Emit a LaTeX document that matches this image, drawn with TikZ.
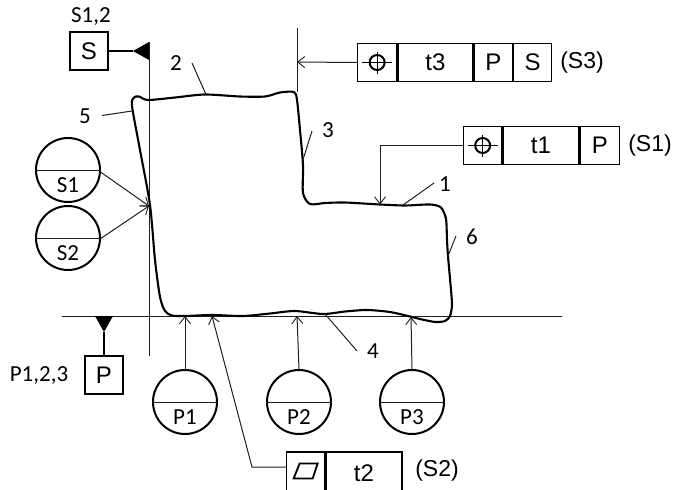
\documentclass[tikz,border=0pt]{standalone}
\usepackage{fontspec}
\setmainfont{Liberation Sans}
\newfontfamily\lblfont{Carlito}
\usetikzlibrary{arrows.meta}
\definecolor{thin}{gray}{0.12}
\tikzset{
  cell/.style={draw=black,line width=1.3pt,minimum height=38pt,inner sep=0pt,font=\fontsize{24}{26}\selectfont,anchor=west},
  dsq/.style={draw=black,line width=1.3pt,minimum size=38pt,inner sep=0pt,font=\fontsize{24}{26}\selectfont},
  dat/.style={draw=black,line width=2pt,circle,minimum size=64pt,inner sep=0pt},
  lbl/.style={font=\lblfont\fontsize{23}{25}\selectfont,inner sep=0pt},
  tag/.style={font=\fontsize{23}{25}\selectfont,inner sep=0pt},
  thinline/.style={draw=thin,line width=1pt},
  lead/.style={thinline,-{Straight Barb[length=7pt,width=11pt,line width=0.9pt]}},
  profile/.style={draw=black,line width=2.1pt,line join=round}
}
\begin{document}
\begin{tikzpicture}[x=1pt,y=-1pt]
\clip (0,0) rectangle (675,490);
% datum lines
\coordinate (vt) at (149,42); \coordinate (vb) at (149,356);
\coordinate (wt) at (297,28); \coordinate (wb) at (297,92);
\coordinate (hl) at (62,316); \coordinate (hr) at (562,316);
\draw[thinline] (vt) -- (vb);
\draw[thinline] (wt) -- (wb);
\draw[thinline] (hl) -- (hr);
% profile
\draw[profile] plot[smooth cycle,tension=0.45] coordinates {
 (132,106) (134,97.5) (139,96.5) (148,100) (175,97.5) (205,94.5) (240,96.5) (265,96.5) (280,92.5) (294,92)
 (297,100) (300,130) (303,165) (303,193) (310,204) (325,203) (345,202.5) (380,204.5) (405,205.5) (430,204.5) (441,207.5) (446,219) (447,240) (448,256)
 (451,290) (452,305) (450,316) (445,321) (435,322) (420,319) (410,316.5) (390,312) (367,310) (345,311.5) (323,314) (295,311) (270,313.5) (243,316) (212,315) (185,316) (172,315.5) (165,311) (160,297) (155,260) (150,205) (140,150)};
% feature control frames
\node[cell,minimum width=39pt] (a1) at (357,62.5) {};
\node[cell,minimum width=75pt] (a2) at (a1.east) {t3};
\node[cell,minimum width=38pt] (a3) at (a2.east) {P};
\node[cell,minimum width=38pt] (a4) at (a3.east) {S};
\node[cell,minimum width=38pt] (b1) at (463,145.5) {};
\node[cell,minimum width=76pt] (b2) at (b1.east) {t1};
\node[cell,minimum width=39pt] (b3) at (b2.east) {P};
\node[cell,minimum width=38pt,minimum height=46pt] (c1) at (286,475) {};
\node[cell,minimum width=76pt,minimum height=46pt] (c2) at (c1.east) {\raisebox{4pt}{t2}};
\node[tag] (ta) at (582,62.5) {(S3)};
\node[tag] (tb) at (650,145.5) {(S1)};
\node[tag] (tc) at (437,471) {(S2)};
% symbols
\foreach \n in {a1,b1}{
  \draw[black,line width=2pt] (\n.center) circle (7.5pt);
  \draw[black,line width=1pt] ([xshift=-15pt]\n.center) -- ([xshift=15pt]\n.center);
  \draw[black,line width=1pt] ([yshift=-11pt]\n.center) -- ([yshift=11pt]\n.center);
}
\draw[black,line width=1.8pt] ([shift={(-6,-11.5)}]c1.center) -- ([shift={(12,-11.5)}]c1.center) -- ([shift={(7,3.5)}]c1.center) -- ([shift={(-12,3.5)}]c1.center) -- cycle;
% datum squares
\node[dsq] (S) at (89,51) {S};
\node[dsq] (P) at (104,375) {P};
\node[lbl] (sl) at (91,17) {S1,2};
\node[lbl] (pl) at (39,376) {P1,2,3};
\coordinate (st) at (133,51);
\coordinate (pt) at (104,332);
\draw[black,line width=1.2pt] (S) -- (st);
\draw[black,line width=1.2pt] (P) -- (pt);
\fill[black] (st) -- (149,42) -- (149,60) -- cycle;
\fill[black] (pt) -- (95,316) -- (113,316) -- cycle;
% datum targets
\foreach \n/\x/\y/\t in {s1/68/170/S1,s2/68/238/S2,p1/185/402/P1,p2/299/402/P2,p3/412/402/P3}{
  \node[dat] (\n) at (\x,\y) {};
  \draw[thinline] (\n.west) -- (\n.east);
  \node[lbl] (\n t) at (\x,\y+15) {\t};
}
% leaders with arrows
\coordinate (ea) at (297,62);
\coordinate (eb) at (380,204.5);
\coordinate (bk) at (380,145.5);
\coordinate (ec) at (212,316);
\coordinate (ck) at (252,467);
\coordinate (es) at (149,206);
\coordinate (ep1) at (185,316);
\coordinate (ep2) at (297,316);
\coordinate (ep3) at (411,317);
\coordinate (c1w) at (286,467);
\draw[lead] (a1.west) -- (ea);
\draw[lead] (b1.west) -- (bk) -- (eb);
\draw[lead] (c1w) -- (ck) -- (ec);
\draw[lead] (s1.east) ++(-0.5,2) -- (es);
\draw[lead] (s2.east) ++(-1,1) -- (es);
\draw[lead] (p1.north) -- (ep1);
\draw[lead] (p2.north) -- (ep2);
\draw[lead] (p3.north) -- (ep3);
% feature labels
\node[lbl] (n1) at (445,184) {1};
\node[lbl] (n2) at (176,63) {2};
\node[lbl] (n3) at (328,130) {3};
\node[lbl] (n4) at (373,351) {4};
\node[lbl] (n5) at (85,116) {5};
\node[lbl] (n6) at (472,237) {6};
\coordinate (f1) at (403,205);
\coordinate (f2) at (206,94.5);
\coordinate (f3) at (302,163);
\coordinate (f4) at (325,314);
\coordinate (f5) at (132,111);
\coordinate (f6) at (448,256);
\draw[thinline] (434,183) coordinate (g1) -- (f1);
\draw[thinline] (192,63) coordinate (g2) -- (f2);
\draw[thinline] (312,131) coordinate (g3) -- (f3);
\draw[thinline] (357,351) coordinate (g4) -- (f4);
\draw[thinline] (102,115.5) coordinate (g5) -- (f5);
\draw[thinline] (456,236) coordinate (g6) -- (f6);
\end{tikzpicture}
\end{document}
